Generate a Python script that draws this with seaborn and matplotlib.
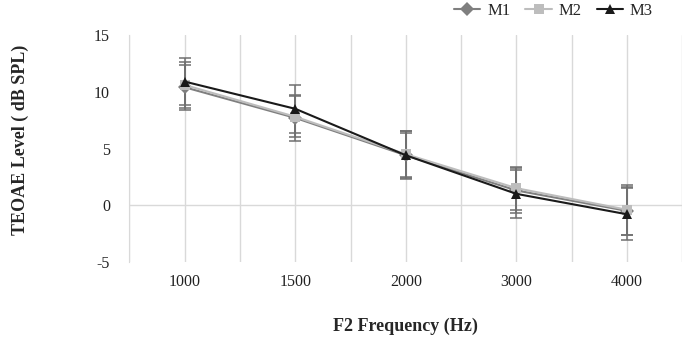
#TEOAE level by F2 frequency

import pandas as pd
import numpy as np
import matplotlib
matplotlib.use("Agg")
import matplotlib.pyplot as plt
import seaborn as sns

frequencies = ["1000", "1500", "2000", "3000", "4000"]
series_names = ["M1", "M2", "M3"]

m1_mean = [10.4, 7.7, 4.4, 1.3, -0.5]
m2_mean = [10.6, 7.8, 4.5, 1.5, -0.4]
m3_mean = [10.9, 8.5, 4.4, 1.0, -0.8]

m1_sd = [2.0, 2.0, 2.0, 2.0, 2.1]
m2_sd = [2.0, 1.8, 2.0, 1.9, 2.2]
m3_sd = [2.1, 2.1, 2.1, 2.1, 2.3]

y_ticks = [-5, 0, 5, 10, 15]


def main():
    sns.set_style("white")
    plt.rcParams['font.family'] = ['Liberation Serif', 'DejaVu Serif']
    plt.rcParams['axes.unicode_minus'] = False

    pos = np.arange(len(frequencies))
    df = pd.DataFrame({
        "pos": np.tile(pos, 3),
        "level": m1_mean + m2_mean + m3_mean,
        "sd": m1_sd + m2_sd + m3_sd,
        "series": np.repeat(series_names, len(frequencies)),
    })

    colors = {"M1": "#7f7f7f", "M2": "#bdbdbd", "M3": "#1a1a1a"}
    markers = {"M1": "D", "M2": "s", "M3": "^"}

    fig = plt.figure(figsize=(6.85, 3.41), dpi=100)
    ax = fig.add_axes([0.189, 0.232, 0.807, 0.665])

    #grid lines at categories and between them
    for gx in np.arange(-0.5, 4.51, 0.5):
        ax.axvline(gx, color="#d9d9d9", lw=1, zorder=0)
    ax.axhline(0, color="#d9d9d9", lw=1, zorder=0)

    #error bars
    for name in series_names:
        sub = df[df["series"] == name]
        ax.errorbar(sub["pos"], sub["level"], yerr=sub["sd"], fmt="none",
                    ecolor="#6f6f6f", elinewidth=1.1, capsize=4, capthick=1.1, zorder=2)

    sns.lineplot(data=df, x="pos", y="level", hue="series", style="series",
                 palette=colors, markers=markers, dashes=False, lw=1.5,
                 markersize=7, markeredgewidth=0, ax=ax, zorder=3, legend=False)

    ax.set_xlim(-0.5, 4.5)
    ax.set_ylim(-5, 15)
    ax.set_xticks(pos)
    ax.set_xticklabels(frequencies)
    ax.set_yticks(y_ticks)
    ax.tick_params(axis="both", length=0, labelsize=11.5, colors="#222222")
    ax.tick_params(axis="x", pad=9)
    ax.tick_params(axis="y", pad=14)

    for s in ["top", "right", "bottom"]:
        ax.spines[s].set_visible(False)
    ax.spines["left"].set_color("#d9d9d9")

    ax.set_xlabel("F2 Frequency (Hz)", fontsize=13, fontweight="bold")
    ax.set_ylabel("TEOAE Level ( dB SPL)", fontsize=13, fontweight="bold")
    ax.xaxis.set_label_coords(0.5, -0.245)
    ax.yaxis.set_label_coords(-0.182, 0.54)

    handles = [plt.Line2D([], [], color=colors[n], marker=markers[n], lw=1.5,
                          markersize=7, markeredgewidth=0) for n in series_names]
    fig.legend(handles, series_names, loc="upper right", bbox_to_anchor=(0.975, 1.035),
               ncol=3, frameon=False, fontsize=12, handlelength=1.6,
               columnspacing=0.9, handletextpad=0.4)

    fig.savefig("out.png", dpi=100)


if __name__ == "__main__":
    main()
